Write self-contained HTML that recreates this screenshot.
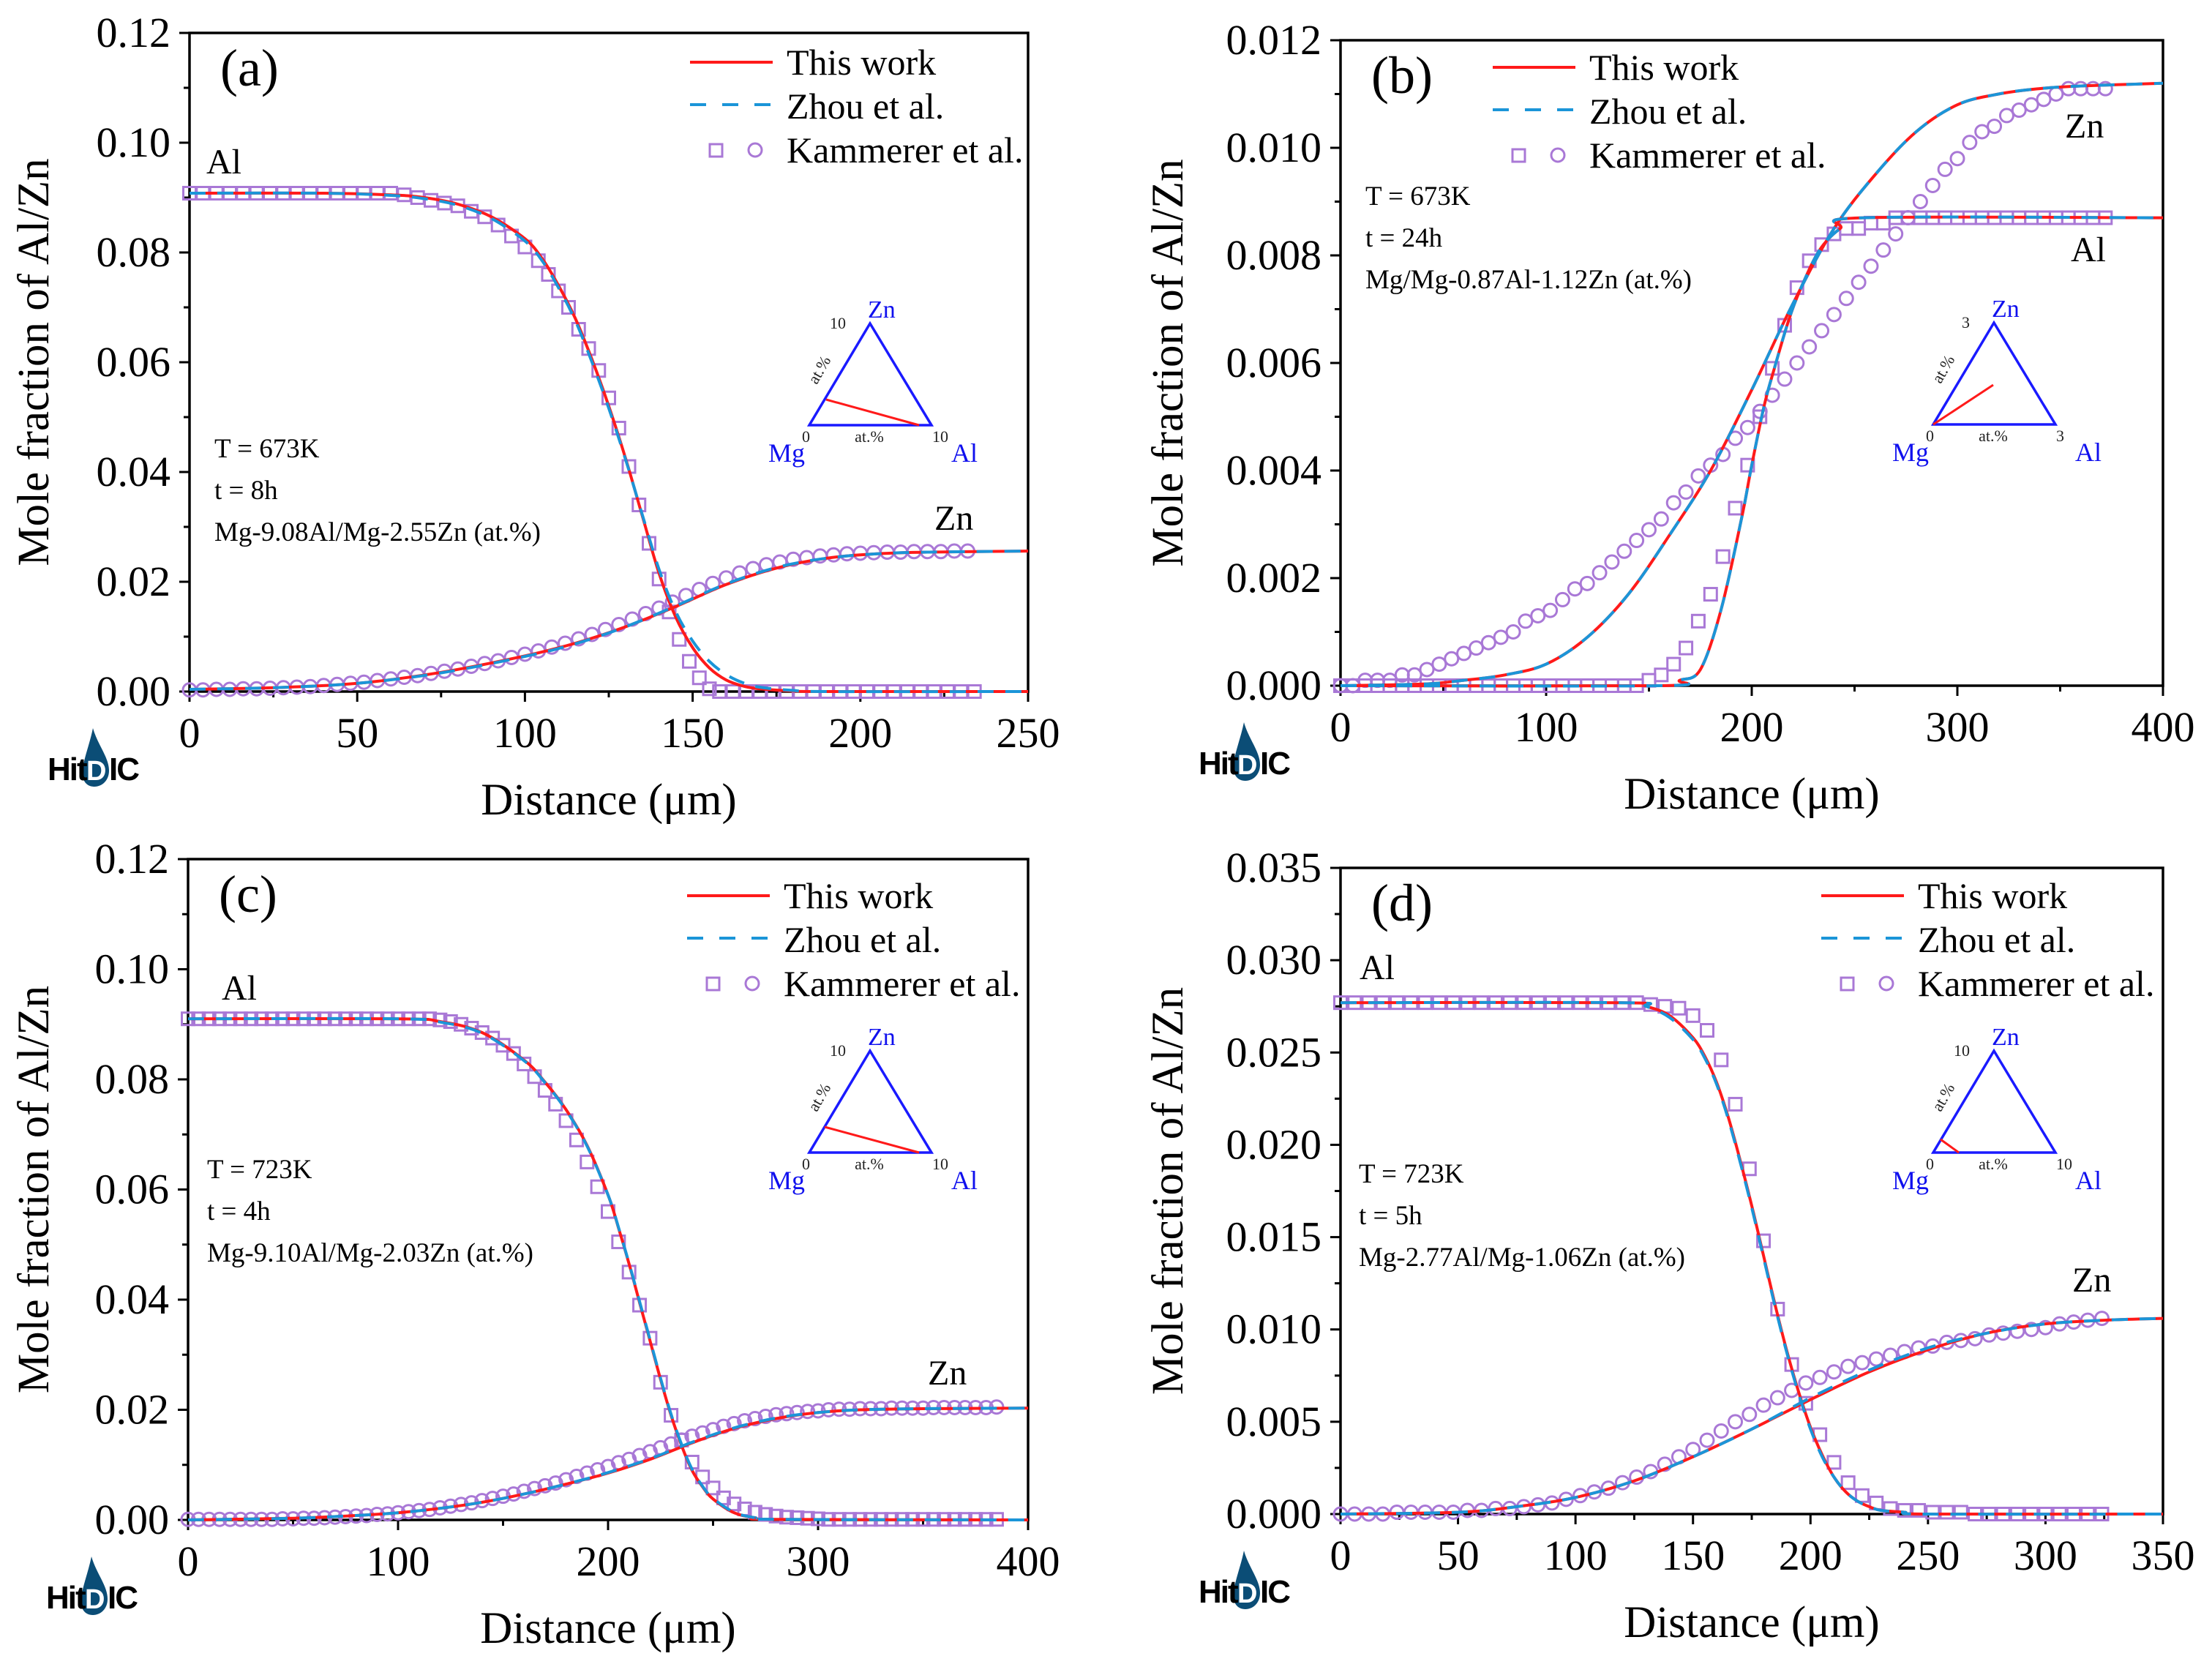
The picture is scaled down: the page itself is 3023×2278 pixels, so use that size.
<!DOCTYPE html>
<html><head><meta charset="utf-8"><style>
html,body{margin:0;padding:0;background:#fff;}
svg{display:block;}
</style></head>
<body>
<svg id="fig" xmlns="http://www.w3.org/2000/svg" width="3023" height="2278" viewBox="0 0 3023 2278" style="font-family:'Liberation Serif',serif">
<rect width="3023" height="2278" fill="#fff"/>
</svg>
<script>
// ---------- Panel (a) data ----------
const aTickX = [0,50,100,150,200,250];
const aTickY = ["0.00","0.02","0.04","0.06","0.08","0.10","0.12"];
const aAlThisX = [0,40,60,70,80,90,100,105,110,115,120,125,130,135,140,145,150,155,160,165,170,180,190,250];
const aAlThisY = [0.0908,0.0908,0.0905,0.0900,0.0888,0.0865,0.0825,0.0790,0.0740,0.0680,0.0605,0.0520,0.0425,0.0320,0.0215,0.0135,0.0080,0.0043,0.0021,0.0010,0.0005,0.0001,0,0];
const aAlZhouX = [0,40,60,70,80,90,100,105,110,115,120,125,130,135,140,145,150,155,160,165,170,180,190,250];
const aAlZhouY = [0.0908,0.0908,0.0904,0.0898,0.0886,0.0862,0.0821,0.0786,0.0736,0.0676,0.0600,0.0516,0.0423,0.0322,0.0222,0.0145,0.0092,0.0055,0.0031,0.0016,0.0008,0.0002,0,0];
const aZnThisX = [0,25,50,75,100,115,130,145,160,175,190,205,220,250];
const aZnThisY = [0.0004,0.0007,0.0015,0.0035,0.0065,0.0088,0.0118,0.0155,0.0195,0.0225,0.0243,0.0251,0.0254,0.0256];
const aZnZhouX = [0,25,50,75,100,115,130,145,160,175,190,205,220,250];
const aZnZhouY = [0.0004,0.0007,0.0015,0.0034,0.0064,0.0087,0.0118,0.0156,0.0196,0.0226,0.0243,0.0251,0.0254,0.0256];
const aAlExpX = [0,4,8,12,16,20,24,28,32,36,40,44,48,52,56,60,64,68,72,76,80,84,88,92,96,100,104,107,110,113,116,119,122,125,128,131,134,137,140,143,146,149,152,155,158,162,166,170,174,178,182,186,190,194,198,202,206,210,214,218,222,226,230,234];
const aAlExpY = [0.0908,0.0908,0.0908,0.0908,0.0908,0.0908,0.0908,0.0908,0.0908,0.0908,0.0908,0.0908,0.0908,0.0908,0.0908,0.0908,0.0905,0.0900,0.0895,0.0890,0.0885,0.0875,0.0865,0.0850,0.0830,0.0810,0.0785,0.0760,0.0730,0.0700,0.0660,0.0625,0.0585,0.0535,0.0480,0.0410,0.0340,0.0270,0.0205,0.0145,0.0095,0.0055,0.0025,0.0005,0,0,0,0,0,0,0,0,0,0,0,0,0,0,0,0,0,0,0,0];
const aZnExpX = [0,4,8,12,16,20,24,28,32,36,40,44,48,52,56,60,64,68,72,76,80,84,88,92,96,100,104,108,112,116,120,124,128,132,136,140,144,148,152,156,160,164,168,172,176,180,184,188,192,196,200,204,208,212,216,220,224,228,232];
const aZnExpY = [0.0003,0.0003,0.0004,0.0004,0.0005,0.0005,0.0006,0.0007,0.0008,0.0009,0.0011,0.0013,0.0015,0.0017,0.0020,0.0023,0.0026,0.0029,0.0033,0.0037,0.0041,0.0046,0.0051,0.0056,0.0062,0.0068,0.0074,0.0081,0.0088,0.0096,0.0104,0.0113,0.0122,0.0132,0.0142,0.0152,0.0163,0.0175,0.0186,0.0197,0.0207,0.0216,0.0224,0.0231,0.0236,0.0241,0.0244,0.0247,0.0249,0.0251,0.0252,0.0253,0.0254,0.0254,0.0255,0.0255,0.0255,0.0256,0.0256];

// ---------- Panel (b) data ----------
const bTickX = [0,100,200,300,400];
const bTickY = ["0.000","0.002","0.004","0.006","0.008","0.010","0.012"];
const bZnThisX = [0,40,60,80,100,120,140,160,180,200,220,240,260,280,300,320,340,360,400];
const bZnThisY = [0,0.00003,0.0001,0.0002,0.0004,0.0009,0.0017,0.0028,0.0040,0.0055,0.0071,0.0085,0.0095,0.0103,0.0108,0.0110,0.0111,0.01115,0.0112];
const bZnZhouX = [0,40,60,80,100,120,140,160,180,200,220,240,260,280,300,320,340,360,400];
const bZnZhouY = [0,0.00003,0.0001,0.0002,0.0004,0.0009,0.0017,0.0028,0.0040,0.0055,0.0071,0.0085,0.0095,0.0103,0.0108,0.0110,0.0111,0.01115,0.0112];
const bAlThisX = [0,155,165,175,185,195,200,206,211,218,224,233,243,254,400];
const bAlThisY = [0,0,0.0001,0.0003,0.0014,0.0031,0.0041,0.0052,0.0059,0.0068,0.0074,0.0081,0.0085,0.0087,0.0087];
const bAlZhouX = [0,155,165,175,185,195,200,206,211,218,224,233,243,254,400];
const bAlZhouY = [0,0,0.0001,0.0003,0.0014,0.0031,0.0041,0.0052,0.0059,0.0068,0.0074,0.0081,0.0085,0.0087,0.0087];
const bAlExpX = [0,6,12,18,24,30,36,42,48,54,60,66,72,78,84,90,96,102,108,114,120,126,132,138,144,150,156,162,168,174,180,186,192,198,204,210,216,222,228,234,240,246,252,258,264,270,276,282,288,294,300,306,312,318,324,330,336,342,348,354,360,366,372];
const bAlExpY = [0,0,0,0,0,0,0,0,0,0,0,0,0,0,0,0,0,0,0,0,0,0,0,0,0,0.0001,0.0002,0.0004,0.0007,0.0012,0.0017,0.0024,0.0033,0.0041,0.0050,0.0059,0.0067,0.0074,0.0079,0.0082,0.0084,0.0085,0.0085,0.0086,0.0086,0.0087,0.0087,0.0087,0.0087,0.0087,0.0087,0.0087,0.0087,0.0087,0.0087,0.0087,0.0087,0.0087,0.0087,0.0087,0.0087,0.0087,0.0087];
const bZnExpX = [0,6,12,18,24,30,36,42,48,54,60,66,72,78,84,90,96,102,108,114,120,126,132,138,144,150,156,162,168,174,180,186,192,198,204,210,216,222,228,234,240,246,252,258,264,270,276,282,288,294,300,306,312,318,324,330,336,342,348,354,360,366,372];
const bZnExpY = [0,0,0.0001,0.0001,0.0001,0.0002,0.0002,0.0003,0.0004,0.0005,0.0006,0.0007,0.0008,0.0009,0.0010,0.0012,0.0013,0.0014,0.0016,0.0018,0.0019,0.0021,0.0023,0.0025,0.0027,0.0029,0.0031,0.0034,0.0036,0.0039,0.0041,0.0043,0.0046,0.0048,0.0051,0.0054,0.0057,0.0060,0.0063,0.0066,0.0069,0.0072,0.0075,0.0078,0.0081,0.0084,0.0087,0.0090,0.0093,0.0096,0.0098,0.0101,0.0103,0.0104,0.0106,0.0107,0.0108,0.0109,0.0110,0.0111,0.0111,0.0111,0.0111];

// ---------- Panel (c) data ----------
const cTickX = [0,100,200,300,400];
const cTickY = ["0.00","0.02","0.04","0.06","0.08","0.10","0.12"];
const cAlThisX = [0,100,120,140,160,170,180,190,200,205,210,215,220,225,230,235,240,245,250,260,270,280,400];
const cAlThisY = [0.091,0.091,0.0905,0.0885,0.0835,0.0795,0.0745,0.068,0.059,0.053,0.0465,0.0395,0.0325,0.0255,0.019,0.0135,0.009,0.006,0.0038,0.0013,0.0004,0.0001,0];
const cAlZhouX = [0,100,120,140,160,170,180,190,200,205,210,215,220,225,230,235,240,245,250,260,270,280,400];
const cAlZhouY = [0.091,0.091,0.0904,0.0884,0.0834,0.0794,0.0744,0.0679,0.0590,0.0531,0.0466,0.0397,0.0327,0.0257,0.0192,0.0137,0.0092,0.0061,0.0039,0.0014,0.0004,0.0001,0];
const cZnThisX = [0,50,80,100,120,140,160,180,200,220,240,260,280,300,320,350,400];
const cZnThisY = [0,0.0003,0.0008,0.0013,0.0021,0.0032,0.0047,0.0065,0.0085,0.0110,0.0140,0.0166,0.0184,0.0195,0.0200,0.0202,0.0203];
const cZnZhouX = [0,50,80,100,120,140,160,180,200,220,240,260,280,300,320,350,400];
const cZnZhouY = [0,0.0003,0.0008,0.0013,0.0021,0.0032,0.0047,0.0065,0.0086,0.0111,0.0141,0.0167,0.0185,0.0195,0.0200,0.0202,0.0203];
const cAlExpX = [0,5,10,15,20,25,30,35,40,45,50,55,60,65,70,75,80,85,90,95,100,105,110,115,120,125,130,135,140,145,150,155,160,165,170,175,180,185,190,195,200,205,210,215,220,225,230,235,240,245,250,255,260,265,270,275,280,285,290,295,300,305,310,315,320,325,330,335,340,345,350,355,360,365,370,375,380,385];
const cAlExpY = [0.091,0.091,0.091,0.091,0.091,0.091,0.091,0.091,0.091,0.091,0.091,0.091,0.091,0.091,0.091,0.091,0.091,0.091,0.091,0.091,0.091,0.091,0.091,0.091,0.0908,0.0905,0.0900,0.0893,0.0885,0.0875,0.0862,0.0847,0.0828,0.0805,0.0780,0.0755,0.0725,0.0690,0.0650,0.0605,0.0560,0.0505,0.0450,0.0390,0.0330,0.0250,0.0190,0.0145,0.0105,0.0078,0.0058,0.0040,0.0029,0.0020,0.0014,0.0010,0.0007,0.0005,0.0004,0.0003,0.0002,0.0001,0.0001,0.0001,0.0001,0.0001,0.0001,0.0001,0.0001,0.0001,0.0001,0.0001,0.0001,0.0001,0.0001,0.0001,0.0001,0.0001];
const cZnExpX = [0,5,10,15,20,25,30,35,40,45,50,55,60,65,70,75,80,85,90,95,100,105,110,115,120,125,130,135,140,145,150,155,160,165,170,175,180,185,190,195,200,205,210,215,220,225,230,235,240,245,250,255,260,265,270,275,280,285,290,295,300,305,310,315,320,325,330,335,340,345,350,355,360,365,370,375,380,385];
const cZnExpY = [0.0001,0.0001,0.0001,0.0001,0.0001,0.0001,0.0001,0.0001,0.0001,0.0002,0.0002,0.0003,0.0003,0.0004,0.0005,0.0006,0.0007,0.0008,0.0010,0.0011,0.0013,0.0015,0.0017,0.0019,0.0022,0.0025,0.0028,0.0031,0.0035,0.0039,0.0043,0.0047,0.0052,0.0057,0.0062,0.0067,0.0073,0.0079,0.0085,0.0091,0.0097,0.0104,0.0110,0.0117,0.0124,0.0131,0.0138,0.0145,0.0152,0.0158,0.0164,0.0170,0.0175,0.0180,0.0184,0.0188,0.0191,0.0193,0.0195,0.0197,0.0198,0.0200,0.0201,0.0201,0.0202,0.0202,0.0202,0.0203,0.0203,0.0203,0.0203,0.0204,0.0204,0.0204,0.0204,0.0204,0.0204,0.0205];

// ---------- Panel (d) data ----------
const dTickX = [0,50,100,150,200,250,300,350];
const dTickY = ["0.000","0.005","0.010","0.015","0.020","0.025","0.030","0.035"];
const dAlThisX = [0,120,130,140,150,155,160,165,170,175,180,185,190,195,200,205,210,215,220,225,230,240,250,350];
const dAlThisY = [0.0277,0.0277,0.0275,0.0270,0.0258,0.0248,0.0234,0.0215,0.0192,0.0167,0.0140,0.0113,0.0088,0.0066,0.0047,0.0032,0.0020,0.0012,0.0007,0.0004,0.0002,0.0001,0,0];
const dAlZhouX = [0,120,130,140,150,155,160,165,170,175,180,185,190,195,200,205,210,215,220,225,230,240,250,350];
const dAlZhouY = [0.0277,0.0277,0.0275,0.0269,0.0257,0.0247,0.0233,0.0214,0.0191,0.0166,0.0139,0.0112,0.0087,0.0065,0.0046,0.0031,0.0020,0.0012,0.0007,0.0004,0.0002,0.0001,0,0];
const dZnThisX = [0,50,75,100,125,150,175,200,225,250,275,300,325,350];
const dZnThisY = [0,0.0001,0.0004,0.0009,0.0018,0.0031,0.0046,0.0062,0.0077,0.0089,0.0098,0.0103,0.0105,0.0106];
const dZnZhouX = [0,50,75,100,125,150,175,200,225,250,275,300,325,350];
const dZnZhouY = [0,0.0001,0.0004,0.0009,0.0018,0.0031,0.0046,0.0063,0.0078,0.0090,0.0098,0.0103,0.0105,0.0106];
const dAlExpX = [0,6,12,18,24,30,36,42,48,54,60,66,72,78,84,90,96,102,108,114,120,126,132,138,144,150,156,162,168,174,180,186,192,198,204,210,216,222,228,234,240,246,252,258,264,270,276,282,288,294,300,306,312,318,324];
const dAlExpY = [0.0277,0.0277,0.0277,0.0277,0.0277,0.0277,0.0277,0.0277,0.0277,0.0277,0.0277,0.0277,0.0277,0.0277,0.0277,0.0277,0.0277,0.0277,0.0277,0.0277,0.0277,0.0277,0.0276,0.0275,0.0274,0.0270,0.0262,0.0246,0.0222,0.0187,0.0148,0.0111,0.0081,0.0060,0.0043,0.0028,0.0017,0.0010,0.0006,0.0003,0.0002,0.0002,0.0001,0.0001,0.0001,0,0,0,0,0,0,0,0,0,0];
const dZnExpX = [0,6,12,18,24,30,36,42,48,54,60,66,72,78,84,90,96,102,108,114,120,126,132,138,144,150,156,162,168,174,180,186,192,198,204,210,216,222,228,234,240,246,252,258,264,270,276,282,288,294,300,306,312,318,324];
const dZnExpY = [0,0,0,0,0.0001,0.0001,0.0001,0.0001,0.0001,0.0002,0.0002,0.0003,0.0003,0.0004,0.0005,0.0006,0.0008,0.0010,0.0012,0.0014,0.0017,0.0020,0.0023,0.0027,0.0031,0.0035,0.0040,0.0045,0.0050,0.0054,0.0059,0.0063,0.0067,0.0071,0.0074,0.0077,0.0080,0.0082,0.0084,0.0086,0.0088,0.0090,0.0091,0.0093,0.0094,0.0095,0.0097,0.0098,0.0099,0.0100,0.0101,0.0103,0.0104,0.0105,0.0106];

const NS = "http://www.w3.org/2000/svg";
const svg = document.getElementById('fig');
const RED = "#ff1a1a", BLUE = "#1b95d8", PURPLE = "#a978d6", TBLUE = "#1010ee";
const SERIF = "font-family:'Liberation Serif',serif";
const SANS = "font-family:'Liberation Sans',sans-serif";

function el(parent, tag, attrs, txt) {
  const e = document.createElementNS(NS, tag);
  for (const k in attrs) e.setAttribute(k, attrs[k]);
  if (tag === 'text' && !attrs.style) e.setAttribute('style', SERIF);
  if (txt !== undefined) e.textContent = txt;
  parent.appendChild(e);
  return e;
}

function smoothPath(pts) {
  let d = "M" + pts[0][0].toFixed(1) + "," + pts[0][1].toFixed(1);
  for (let i = 0; i < pts.length - 1; i++) {
    const p0 = pts[Math.max(0, i - 1)], p1 = pts[i], p2 = pts[i + 1], p3 = pts[Math.min(pts.length - 1, i + 2)];
    const c1x = p1[0] + (p2[0] - p0[0]) / 6, c1y = p1[1] + (p2[1] - p0[1]) / 6;
    const c2x = p2[0] - (p3[0] - p1[0]) / 6, c2y = p2[1] - (p3[1] - p1[1]) / 6;
    d += " C" + c1x.toFixed(1) + "," + c1y.toFixed(1) + " " + c2x.toFixed(1) + "," + c2y.toFixed(1) + " " + p2[0].toFixed(1) + "," + p2[1].toFixed(1);
  }
  return d;
}

function panel(cfg) {
  const g = el(svg, 'g', {});
  
  
  const X = v => cfg.x0 + (v / cfg.xmax) * (cfg.x1 - cfg.x0);
  const Y = v => cfg.y1 - (v / cfg.ymax) * (cfg.y1 - cfg.y0);

  const xm = cfg.tickX[1] - cfg.tickX[0];
  for (let i = 0; i < cfg.tickX.length - 1; i++) {
    const xv = X(cfg.tickX[i] + xm / 2);
    const t = el(g, 'line', {x1: xv, x2: xv, y1: cfg.y1, y2: cfg.y1 + 8, stroke: '#000', 'stroke-width': 3});
    
    
  }
  const ys = cfg.ymax / (cfg.tickY.length - 1);
  for (let i = 0; i < cfg.tickY.length - 1; i++) {
    const yv = Y(ys * i + ys / 2);
    const t = el(g, 'line', {x1: cfg.x0 - 8, x2: cfg.x0, y1: yv, y2: yv, stroke: '#000', 'stroke-width': 3});
    
    
  }
  cfg.tickX.forEach(v => {
    const xv = X(v);
    const t = el(g, 'line', {x1: xv, x2: xv, y1: cfg.y1, y2: cfg.y1 + 14, stroke: '#000', 'stroke-width': 3});
    
    
    const l = el(g, 'text', {x: xv, y: cfg.y1 + 76, 'font-size': 58, 'text-anchor': 'middle'}, String(v));
    
    
  });
  cfg.tickY.forEach((s, i) => {
    const yv = Y(ys * i);
    const t = el(g, 'line', {x1: cfg.x0 - 14, x2: cfg.x0, y1: yv, y2: yv, stroke: '#000', 'stroke-width': 3});
    
    
    const l = el(g, 'text', {x: cfg.x0 - 26, y: yv + 19, 'font-size': 58, 'text-anchor': 'end'}, s);
    
    
  });
  const fr = el(g, 'rect', {x: cfg.x0, y: cfg.y0, width: cfg.x1 - cfg.x0, height: cfg.y1 - cfg.y0, fill: 'none', stroke: '#000', 'stroke-width': 3.5});
  
  

  const xt = el(g, 'text', {x: (cfg.x0 + cfg.x1) / 2, y: cfg.y1 + 168, 'font-size': 61, 'text-anchor': 'middle'}, 'Distance (\u03bcm)');
  
  
  const ytx = cfg.ytitleX, yty = (cfg.y0 + cfg.y1) / 2;
  const yt = el(g, 'text', {x: ytx, y: yty, 'font-size': 61, 'text-anchor': 'middle', transform: 'rotate(-90 ' + ytx + ' ' + yty + ')'}, 'Mole fraction of Al/Zn');
  
  

  cfg.sqX.forEach((v, i) => {
    const s = 17;
    const m = el(g, 'rect', {x: X(v) - s / 2, y: Y(cfg.sqY[i]) - s / 2, width: s, height: s, fill: 'none', stroke: PURPLE, 'stroke-width': 3});
    
    
  });
  cfg.ciX.forEach((v, i) => {
    const m = el(g, 'circle', {cx: X(v), cy: Y(cfg.ciY[i]), r: 9, fill: 'none', stroke: PURPLE, 'stroke-width': 3});
    
    
  });
  const curves = [
    [cfg.alThisX, cfg.alThisY, RED, null, 'al-this-work-line'],
    [cfg.znThisX, cfg.znThisY, RED, null, 'zn-this-work-line'],
    [cfg.alZhouX, cfg.alZhouY, BLUE, '22 16', 'al-zhou-line'],
    [cfg.znZhouX, cfg.znZhouY, BLUE, '22 16', 'zn-zhou-line']
  ];
  curves.forEach(c => {
    const pts = c[0].map((v, i) => [X(v), Y(c[1][i])]);
    const at = {d: smoothPath(pts), fill: 'none', stroke: c[2], 'stroke-width': 4};
    if (c[3]) at['stroke-dasharray'] = c[3];
    const p = el(g, 'path', at);
    
    
  });

  const pl = el(g, 'text', {x: cfg.x0 + 42, y: cfg.y0 + 72, 'font-size': 72}, '(' + cfg.id + ')');
  
  
  cfg.species.forEach(s => {
    const t = el(g, 'text', {x: s[1], y: s[2], 'font-size': 48}, s[0]);
    
    
  });
  cfg.notes.forEach((s, i) => {
    const t = el(g, 'text', {x: cfg.noteX, y: cfg.noteY + i * 57, 'font-size': 37}, s);
    
    
  });

  const lg = el(g, 'g', {});
  
  
  const lx = cfg.legX, ly = cfg.legY;
  const l1 = el(lg, 'line', {x1: lx, x2: lx + 113, y1: ly, y2: ly, stroke: RED, 'stroke-width': 4});
  
  
  const l2 = el(lg, 'line', {x1: lx, x2: lx + 113, y1: ly + 58, y2: ly + 58, stroke: BLUE, 'stroke-width': 4, 'stroke-dasharray': '22 22'});
  
  
  const l3 = el(lg, 'rect', {x: lx + 27, y: ly + 112, width: 17, height: 17, fill: 'none', stroke: PURPLE, 'stroke-width': 3});
  
  
  const l4 = el(lg, 'circle', {cx: lx + 89, cy: ly + 120, r: 9, fill: 'none', stroke: PURPLE, 'stroke-width': 3});
  
  
  ['This work', 'Zhou et al.', 'Kammerer et al.'].forEach((s, i) => {
    const t = el(lg, 'text', {x: lx + 132, y: ly + 17 + i * 60, 'font-size': 50}, s);
    
    
  });

  const tg = el(g, 'g', {transform: 'translate(' + cfg.tri[0] + ',' + cfg.tri[1] + ')'});
  
  
  const tri = el(tg, 'polygon', {points: '0,0 167,0 83,-139', fill: 'none', stroke: '#1a1aff', 'stroke-width': 3.5});
  
  
  const rl = el(tg, 'line', {x1: cfg.triLine[0], y1: cfg.triLine[1], x2: cfg.triLine[2], y2: cfg.triLine[3], stroke: RED, 'stroke-width': 3});
  
  
  const tl = [['Zn', 80, -147, 34, TBLUE, 'start'], ['Mg', -6, 50, 36, TBLUE, 'end'], ['Al', 194, 50, 36, TBLUE, 'start'],
              [cfg.triMax, 50, -132, 22, '#222', 'end'], ['0', -10, 23, 22, '#222', 'start'], ['at.%', 82, 23, 22, '#222', 'middle'], [cfg.triMax, 168, 23, 22, '#222', 'start']];
  tl.forEach(a => {
    const t = el(tg, 'text', {x: a[1], y: a[2], 'font-size': a[3], fill: a[4], 'text-anchor': a[5]}, a[0]);
    
    
  });
  const rt = el(tg, 'text', {x: 20, y: -72, 'font-size': 22, fill: '#222', 'text-anchor': 'middle', transform: 'rotate(-60 20 -72)'}, 'at.%');
  
  

  const lo = el(g, 'g', {transform: 'translate(' + (cfg.x0 - 198) + ',' + (cfg.y1 + 50) + ')'});
  
  
  const dp = el(lo, 'path', {d: 'M66,0 C72,22 88,40 88,58 C88,72 78,80 68,80 C56,80 50,70 52,56 C54,40 62,20 66,0 Z', fill: '#0b4d76'});
  
  
  const lt = el(lo, 'text', {x: 4, y: 71, 'font-size': 44, 'font-weight': 'bold', fill: '#000', style: SANS, 'letter-spacing': -2}, 'Hit');
  
  
  const ld = el(lo, 'text', {x: 57, y: 71, 'font-size': 38, 'font-weight': 'bold', fill: '#fff', style: SANS}, 'D');
  
  
  const lt2 = el(lo, 'text', {x: 88, y: 71, 'font-size': 44, 'font-weight': 'bold', fill: '#000', style: SANS, 'letter-spacing': -2}, 'IC');
  
  
}

panel({id: 'a', x0: 259, x1: 1405, y0: 45, y1: 945, xmax: 250, ymax: 0.12, tickX: aTickX, tickY: aTickY,
  alThisX: aAlThisX, alThisY: aAlThisY, alZhouX: aAlZhouX, alZhouY: aAlZhouY, znThisX: aZnThisX, znThisY: aZnThisY, znZhouX: aZnZhouX, znZhouY: aZnZhouY,
  sqX: aAlExpX, sqY: aAlExpY, ciX: aZnExpX, ciY: aZnExpY, ytitleX: 66,
  species: [['Al', 282, 237], ['Zn', 1277, 724]], notes: ['T = 673K', 't = 8h', 'Mg-9.08Al/Mg-2.55Zn (at.%)'], noteX: 293, noteY: 625,
  legX: 943, legY: 85, tri: [1106, 581], triLine: [23, -35, 150, 0], triMax: '10'});
panel({id: 'b', x0: 1832, x1: 2956, y0: 55, y1: 937, xmax: 400, ymax: 0.012, tickX: bTickX, tickY: bTickY,
  alThisX: bAlThisX, alThisY: bAlThisY, alZhouX: bAlZhouX, alZhouY: bAlZhouY, znThisX: bZnThisX, znThisY: bZnThisY, znZhouX: bZnZhouX, znZhouY: bZnZhouY,
  sqX: bAlExpX, sqY: bAlExpY, ciX: bZnExpX, ciY: bZnExpY, ytitleX: 1616,
  species: [['Zn', 2822, 188], ['Al', 2830, 357]], notes: ['T = 673K', 't = 24h', 'Mg/Mg-0.87Al-1.12Zn (at.%)'], noteX: 1866, noteY: 280,
  legX: 2040, legY: 92, tri: [2642, 580], triLine: [0, 0, 82, -54], triMax: '3'});
panel({id: 'c', x0: 257, x1: 1405, y0: 1174, y1: 2077, xmax: 400, ymax: 0.12, tickX: cTickX, tickY: cTickY,
  alThisX: cAlThisX, alThisY: cAlThisY, alZhouX: cAlZhouX, alZhouY: cAlZhouY, znThisX: cZnThisX, znThisY: cZnThisY, znZhouX: cZnZhouX, znZhouY: cZnZhouY,
  sqX: cAlExpX, sqY: cAlExpY, ciX: cZnExpX, ciY: cZnExpY, ytitleX: 66,
  species: [['Al', 303, 1366], ['Zn', 1268, 1892]], notes: ['T = 723K', 't = 4h', 'Mg-9.10Al/Mg-2.03Zn (at.%)'], noteX: 283, noteY: 1610,
  legX: 939, legY: 1224, tri: [1106, 1575], triLine: [21, -35, 150, 0], triMax: '10'});
panel({id: 'd', x0: 1832, x1: 2956, y0: 1186, y1: 2069, xmax: 350, ymax: 0.035, tickX: dTickX, tickY: dTickY,
  alThisX: dAlThisX, alThisY: dAlThisY, alZhouX: dAlZhouX, alZhouY: dAlZhouY, znThisX: dZnThisX, znThisY: dZnThisY, znZhouX: dZnZhouX, znZhouY: dZnZhouY,
  sqX: dAlExpX, sqY: dAlExpY, ciX: dZnExpX, ciY: dZnExpY, ytitleX: 1616,
  species: [['Al', 1858, 1338], ['Zn', 2832, 1765]], notes: ['T = 723K', 't = 5h', 'Mg-2.77Al/Mg-1.06Zn (at.%)'], noteX: 1857, noteY: 1616,
  legX: 2489, legY: 1224, tri: [2642, 1575], triLine: [10, -18, 35, 0], triMax: '10'});
</script>
</body></html>
